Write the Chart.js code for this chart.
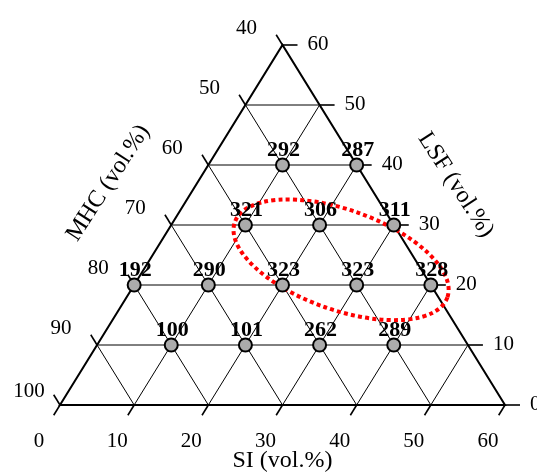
<!DOCTYPE html>
<html>
<head>
<meta charset="utf-8">
<script src="https://cdn.jsdelivr.net/npm/chart.js@4/dist/chart.umd.min.js"></script>
<style>
  html, body { margin: 0; padding: 0; background: #fff; }
  #wrap { width: 537px; height: 472px; position: relative; }
</style>
</head>
<body>
<div id="wrap"><canvas id="c"></canvas></div>
<script>
// ---- data (ternary: SI + LSF + MHC = 100) ----
const siValues   = [10, 20, 10, 20, 30, 0, 10, 20, 30, 40, 10, 20, 30, 40];
const lsfValues  = [40, 40, 30, 30, 30, 20, 20, 20, 20, 20, 10, 10, 10, 10];
const pointLabels = [292, 287, 321, 306, 311, 192, 290, 323, 323, 328, 100, 101, 262, 289];

const siTicks  = ['0', '10', '20', '30', '40', '50', '60'];
const lsfTicks = ['0', '10', '20', '30', '40', '50', '60'];
const mhcTicks = ['100', '90', '80', '70', '60', '50', '40'];
const tickSteps = [0, 10, 20, 30, 40, 50, 60];
const gridSteps = [10, 20, 30, 40, 50];

const siTitle = 'SI (vol.%)';
const lsfTitle = 'LSF (vol.%)';
const mhcTitle = 'MHC (vol.%)';

// highlighted region (dotted ellipse), in SI/LSF units
const highlight = { si: 25.8, lsf: 24.2, rx: 15.2, ry: 6.75, angleDeg: 19.5 };

const SERIF = '"Liberation Serif", "Times New Roman", serif';

// cartesian conversion through the chart scales
function toXY(si, lsf) { return { x: si + lsf / 2, y: lsf }; }

const ternaryPlugin = {
  id: 'ternary',
  beforeDatasetsDraw(chart) {
    const ctx = chart.ctx;
    const xs = chart.scales.x, ys = chart.scales.y;
    const P = (si, lsf) => {
      const c = toXY(si, lsf);
      return [xs.getPixelForValue(c.x), ys.getPixelForValue(c.y)];
    };
    const line = (a, b) => { ctx.beginPath(); ctx.moveTo(a[0], a[1]); ctx.lineTo(b[0], b[1]); ctx.stroke(); };

    ctx.save();
    // grid
    ctx.strokeStyle = '#000';
    ctx.lineWidth = 1;
    gridSteps.forEach(v => {
      line(P(0, v), P(60 - v, v));     // constant LSF
      line(P(v, 0), P(v, 60 - v));     // constant SI
      line(P(v, 0), P(0, v));          // constant MHC
    });
    // triangle edges
    ctx.lineWidth = 2;
    ctx.strokeStyle = '#000';
    const BL = P(0, 0), BR = P(60, 0), AP = P(0, 60);
    ctx.beginPath();
    ctx.moveTo(BL[0], BL[1]); ctx.lineTo(BR[0], BR[1]); ctx.lineTo(AP[0], AP[1]); ctx.closePath();
    ctx.stroke();

    // tick directions
    const norm = (dx, dy) => { const l = Math.hypot(dx, dy); return [dx / l, dy / l]; };
    const dBottom = norm(BL[0] - AP[0], BL[1] - AP[1]);
    const dLeft = norm(AP[0] - BR[0], AP[1] - BR[1]);
    ctx.lineWidth = 1.6;
    const tl = 12;
    tickSteps.forEach((v, i) => {
      const b = P(v, 0);
      line(b, [b[0] + dBottom[0] * tl, b[1] + dBottom[1] * tl]);
      const l = P(0, v);
      line(l, [l[0] + dLeft[0] * tl, l[1] + dLeft[1] * tl]);
      const r = P(60 - v, v);
      line(r, [r[0] + 15, r[1]]);
    });

    // tick labels
    ctx.fillStyle = '#000';
    ctx.font = '21px ' + SERIF;
    ctx.textBaseline = 'alphabetic';
    tickSteps.forEach((v, i) => {
      const b = P(v, 0);
      ctx.textAlign = 'center';
      ctx.fillText(siTicks[i], b[0] - (i === 0 ? 21 : 17), b[1] + 42);
      const l = P(0, v);
      ctx.fillText(mhcTicks[i], l[0] - (i === 0 ? 31 : 36), l[1] - (i === 0 ? 8 : 11));
      const r = P(60 - v, v);
      ctx.textAlign = 'left';
      ctx.fillText(lsfTicks[i], r[0] + 25, r[1] + 5);
    });

    // axis titles
    ctx.font = '24px ' + SERIF;
    ctx.textAlign = 'center';
    ctx.textBaseline = 'middle';
    const mid = P(30, 0);
    ctx.fillText(siTitle, mid[0], mid[1] + 56);
    const lm = P(0, 30);
    ctx.save();
    ctx.translate(lm[0] - 63, lm[1] - 42);
    ctx.rotate(-57 * Math.PI / 180);
    ctx.fillText(mhcTitle, 0, 0);
    ctx.restore();
    const rm = P(30, 30);
    ctx.save();
    ctx.translate(rm[0] + 62, rm[1] - 40);
    ctx.rotate(57 * Math.PI / 180);
    ctx.fillText(lsfTitle, 0, 0);
    ctx.restore();

    // dotted highlight ellipse
    const c = P(highlight.si, highlight.lsf);
    const pxPerUnit = xs.getPixelForValue(1) - xs.getPixelForValue(0);
    ctx.strokeStyle = '#ff0000';
    ctx.lineWidth = 4;
    ctx.setLineDash([4, 3.2]);
    ctx.beginPath();
    ctx.ellipse(c[0], c[1], highlight.rx * pxPerUnit, highlight.ry * pxPerUnit,
                highlight.angleDeg * Math.PI / 180, 0, Math.PI * 2);
    ctx.stroke();
    ctx.setLineDash([]);
    ctx.restore();
  },
  afterDatasetsDraw(chart) {
    const ctx = chart.ctx;
    const meta = chart.getDatasetMeta(0);
    ctx.save();
    ctx.fillStyle = '#000';
    ctx.font = 'bold 22px ' + SERIF;
    ctx.textAlign = 'center';
    ctx.textBaseline = 'alphabetic';
    meta.data.forEach((el, i) => {
      ctx.fillText(String(pointLabels[i]), el.x + 1, el.y - 9);
    });
    ctx.restore();
  }
};

new Chart(document.getElementById('c'), {
  type: 'scatter',
  data: {
    datasets: [{
      data: siValues.map((s, i) => toXY(s, lsfValues[i])),
      backgroundColor: '#ababab',
      borderColor: '#000',
      borderWidth: 2,
      pointRadius: 6.5,
      pointHoverRadius: 6.5
    }]
  },
  options: {
    responsive: true,
    maintainAspectRatio: false,
    animation: false,
    events: [],
    layout: { padding: { left: 60, right: 32, top: 45, bottom: 67 } },
    scales: {
      x: { type: 'linear', min: 0, max: 60, display: false },
      y: { type: 'linear', min: 0, max: 60, display: false }
    },
    plugins: { legend: { display: false }, tooltip: { enabled: false } }
  },
  plugins: [ternaryPlugin]
});
</script>
</body>
</html>
